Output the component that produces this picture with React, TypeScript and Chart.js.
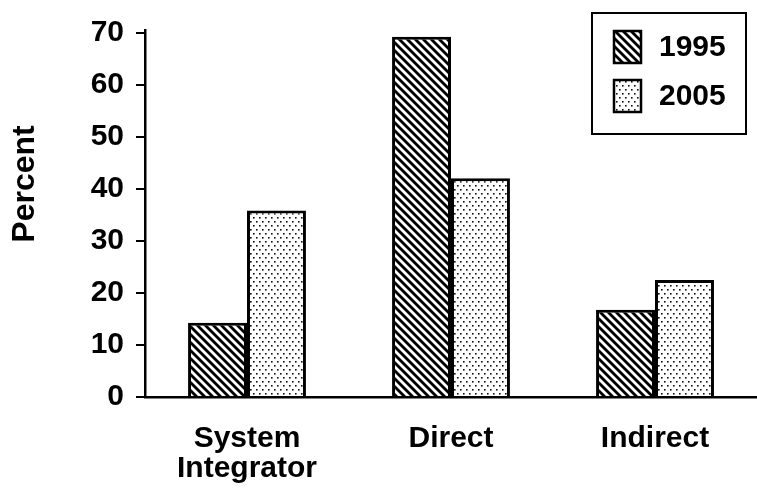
import React, { useEffect, useRef } from "react";
import { Chart, registerables } from "chart.js";

Chart.register(...registerables);

const categories: (string | string[])[] = [["System", "Integrator"], "Direct", "Indirect"];
const seriesLabels = ["1995", "2005"];
const values1995 = [14.3, 69.3, 16.8];
const values2005 = [35.9, 42.1, 22.5];
const yTicks = [0, 10, 20, 30, 40, 50, 60, 70];
const yTitle = "Percent";

const FONT = "'Liberation Sans', Arial, Helvetica, sans-serif";

function makeHatch(): CanvasPattern | string {
  const s = 8;
  const c = document.createElement("canvas");
  c.width = s;
  c.height = s;
  const g = c.getContext("2d");
  if (!g) return "#888";
  g.fillStyle = "#fff";
  g.fillRect(0, 0, s, s);
  g.strokeStyle = "#000";
  g.lineWidth = 2.8;
  g.lineCap = "square";
  for (const k of [-s, 0, s]) {
    g.beginPath();
    g.moveTo(k, 0);
    g.lineTo(k + s, s);
    g.stroke();
  }
  return g.createPattern(c, "repeat") || "#888";
}

function makeDots(): CanvasPattern | string {
  const w = 6;
  const h = 8;
  const c = document.createElement("canvas");
  c.width = w;
  c.height = h;
  const g = c.getContext("2d");
  if (!g) return "#ddd";
  g.fillStyle = "#fff";
  g.fillRect(0, 0, w, h);
  g.fillStyle = "#111";
  g.fillRect(1, 1, 1.6, 1.6);
  g.fillRect(4, 5, 1.6, 1.6);
  return g.createPattern(c, "repeat") || "#ddd";
}

const boxedLegend = {
  id: "boxedLegend",
  afterDraw(chart: any) {
    const ctx = chart.ctx as CanvasRenderingContext2D;
    ctx.save();
    ctx.strokeStyle = "#000";
    ctx.lineWidth = 2;
    ctx.fillStyle = "#fff";
    ctx.fillRect(592, 13, 154, 121);
    ctx.strokeRect(592, 13, 154, 121);
    chart.data.datasets.forEach((ds: any, i: number) => {
      const x = 614;
      const y = 31 + i * 49;
      ctx.fillStyle = ds.backgroundColor;
      ctx.fillRect(x, y, 27, 32);
      ctx.lineWidth = 2.5;
      ctx.strokeStyle = "#000";
      ctx.strokeRect(x, y, 27, 32);
      ctx.fillStyle = "#000";
      ctx.font = `bold 30px ${FONT}`;
      ctx.textAlign = "left";
      ctx.textBaseline = "middle";
      ctx.fillText(ds.label, 659, y + 17);
    });
    ctx.restore();
  },
};

const yTitlePlugin = {
  id: "yTitlePlugin",
  afterDraw(chart: any) {
    const ctx = chart.ctx as CanvasRenderingContext2D;
    ctx.save();
    ctx.translate(25, 184);
    ctx.rotate(-Math.PI / 2);
    ctx.fillStyle = "#000";
    ctx.font = `bold 32px ${FONT}`;
    ctx.textAlign = "center";
    ctx.textBaseline = "middle";
    ctx.fillText(yTitle, 0, 0);
    ctx.restore();
  },
};

export default function App() {
  const ref = useRef<HTMLCanvasElement | null>(null);
  useEffect(() => {
    document.body.style.margin = "0";
    const canvas = ref.current;
    if (!canvas) return;
    const chart = new Chart(canvas, {
      type: "bar",
      data: {
        labels: categories,
        datasets: [
          {
            label: seriesLabels[0],
            data: values1995,
            backgroundColor: makeHatch() as any,
            borderColor: "#000",
            borderWidth: 3,
          },
          {
            label: seriesLabels[1],
            data: values2005,
            backgroundColor: makeDots() as any,
            borderColor: "#000",
            borderWidth: 3,
          },
        ],
      },
      options: {
        responsive: false,
        animation: false,
        events: [],
        layout: { padding: { top: 27, right: -11, left: 0, bottom: 0 } },
        plugins: { legend: { display: false }, tooltip: { enabled: false } },
        datasets: { bar: { categoryPercentage: 0.578, barPercentage: 1.0 } },
        scales: {
          x: {
            grid: { display: false },
            border: { display: true, color: "#000", width: 2.5 },
            ticks: {
              color: "#000",
              font: { family: FONT, size: 30, weight: "bold", lineHeight: 1.0 },
              padding: 19,
              maxRotation: 0,
              autoSkip: false,
            },
            afterFit: (scale: any) => {
              scale.height = 94;
            },
          },
          y: {
            min: 0,
            max: 70.6,
            grid: {
              display: true,
              drawOnChartArea: false,
              drawTicks: true,
              tickLength: 9,
              color: "#000",
              lineWidth: 2,
            },
            border: { display: true, color: "#000", width: 2.5 },
            afterBuildTicks: (scale: any) => {
              scale.ticks = yTicks.map((v) => ({ value: v }));
            },
            ticks: {
              color: "#000",
              font: { family: FONT, size: 30, weight: "bold" },
              padding: 12,
            },
            afterFit: (scale: any) => {
              scale.width = 145;
            },
          },
        },
      },
      plugins: [boxedLegend, yTitlePlugin],
    });
    return () => chart.destroy();
  }, []);
  return (
    <div style={{ position: "fixed", left: 0, top: 0, width: 757, height: 491, background: "#fff" }}>
      <canvas ref={ref} width={757} height={491} style={{ display: "block", width: 757, height: 491 }} />
    </div>
  );
}
